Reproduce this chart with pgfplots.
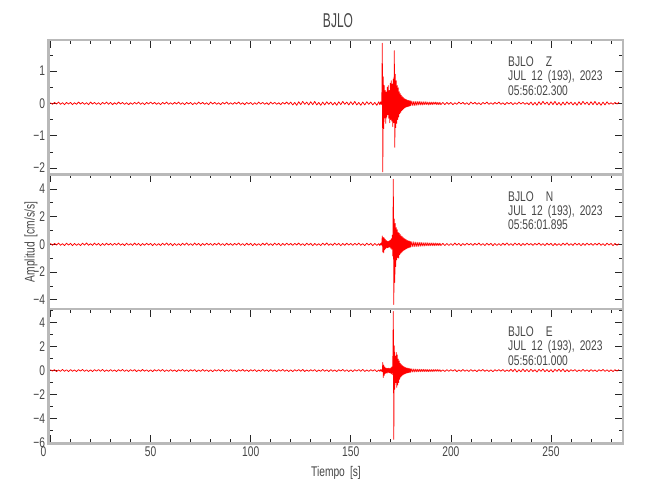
\documentclass[border=0pt]{standalone}
\usepackage{pgfplots}
\pgfplotsset{compat=1.18}
\usepackage{pgfplotstable}
\usepackage{fontspec}
\setmainfont{Liberation Sans}[FakeStretch=0.73,WordSpace=1.8]
\newfontfamily\titlefont{Liberation Sans}[FakeStretch=0.6]
\definecolor{txt}{RGB}{70,70,70}
\definecolor{framec}{RGB}{185,185,185}
\definecolor{sig}{RGB}{255,0,0}

\pgfplotstableread[row sep=\\]{
t z n e\\
0 0.02 0.06 0.07\\ 1 -0.03 -0.08 -0.05\\ 2 0.03 0.07 0.08\\ 3 -0.02 -0.05 -0.09\\ 4 0.04 0.09 0.05\\
5 -0.03 -0.07 -0.07\\ 6 0.02 0.05 0.09\\ 7 -0.04 -0.09 -0.06\\ 8 0.03 0.08 0.06\\ 9 -0.02 -0.06 -0.08\\
10 0.03 0.07 0.08\\ 11 -0.04 -0.1 -0.06\\ 12 0.02 0.06 0.05\\ 13 -0.03 -0.08 -0.09\\ 14 0.04 0.05 0.07\\
15 -0.02 -0.09 -0.05\\ 16 0.03 0.08 0.09\\ 17 -0.03 -0.06 -0.07\\ 18 0.02 0.1 0.06\\ 19 -0.04 -0.07 -0.08\\
20 0.04 0.05 0.06\\ 21 -0.02 -0.08 -0.09\\ 22 0.03 0.09 0.07\\ 23 -0.03 -0.06 -0.05\\ 24 0.02 0.07 0.08\\
25 -0.04 -0.1 -0.06\\ 26 0.03 0.06 0.09\\ 27 -0.02 -0.07 -0.08\\ 28 0.04 0.08 0.05\\ 29 -0.03 -0.05 -0.07\\
30 0.03 0.06 0.08\\ 31 -0.04 -0.08 -0.06\\ 32 0.02 0.07 0.05\\ 33 -0.03 -0.05 -0.09\\ 34 0.04 0.09 0.07\\
35 -0.02 -0.07 -0.05\\ 36 0.03 0.05 0.09\\ 37 -0.03 -0.09 -0.07\\ 38 0.02 0.08 0.06\\ 39 -0.04 -0.06 -0.08\\
40 0.02 0.05 0.07\\ 41 -0.03 -0.08 -0.05\\ 42 0.03 0.09 0.08\\ 43 -0.02 -0.06 -0.09\\ 44 0.04 0.07 0.05\\
45 -0.03 -0.1 -0.07\\ 46 0.02 0.06 0.09\\ 47 -0.04 -0.07 -0.06\\ 48 0.03 0.08 0.06\\ 49 -0.02 -0.05 -0.08\\
50 0.04 0.07 0.06\\ 51 -0.02 -0.1 -0.09\\ 52 0.03 0.06 0.07\\ 53 -0.03 -0.08 -0.05\\ 54 0.02 0.05 0.08\\
55 -0.04 -0.09 -0.06\\ 56 0.03 0.08 0.09\\ 57 -0.02 -0.06 -0.08\\ 58 0.04 0.1 0.05\\ 59 -0.03 -0.07 -0.07\\
60 0.02 0.07 0.08\\ 61 -0.03 -0.1 -0.06\\ 62 0.03 0.06 0.05\\ 63 -0.02 -0.08 -0.09\\ 64 0.04 0.05 0.07\\
65 -0.03 -0.09 -0.05\\ 66 0.02 0.08 0.09\\ 67 -0.04 -0.06 -0.07\\ 68 0.03 0.1 0.06\\ 69 -0.02 -0.07 -0.08\\
70 0.03 0.05 0.07\\ 71 -0.04 -0.08 -0.05\\ 72 0.02 0.09 0.08\\ 73 -0.03 -0.06 -0.09\\ 74 0.04 0.07 0.05\\
75 -0.02 -0.1 -0.07\\ 76 0.03 0.06 0.09\\ 77 -0.03 -0.07 -0.06\\ 78 0.02 0.08 0.06\\ 79 -0.04 -0.05 -0.08\\
80 0.04 0.06 0.06\\ 81 -0.02 -0.08 -0.09\\ 82 0.03 0.07 0.07\\ 83 -0.03 -0.05 -0.05\\ 84 0.02 0.09 0.08\\
85 -0.04 -0.07 -0.06\\ 86 0.03 0.05 0.09\\ 87 -0.02 -0.09 -0.08\\ 88 0.04 0.08 0.05\\ 89 -0.03 -0.06 -0.07\\
90 0.02 0.06 0.08\\ 91 -0.03 -0.08 -0.06\\ 92 0.03 0.07 0.05\\ 93 -0.02 -0.05 -0.09\\ 94 0.04 0.09 0.07\\
95 -0.03 -0.07 -0.05\\ 96 0.02 0.05 0.09\\ 97 -0.04 -0.09 -0.07\\ 98 0.03 0.08 0.06\\ 99 -0.02 -0.06 -0.08\\
100 0.03 0.07 0.07\\ 101 -0.04 -0.1 -0.05\\ 102 0.02 0.06 0.08\\ 103 -0.03 -0.08 -0.09\\ 104 0.04 0.05 0.05\\
105 -0.02 -0.09 -0.07\\ 106 0.03 0.08 0.09\\ 107 -0.03 -0.06 -0.06\\ 108 0.02 0.1 0.06\\ 109 -0.04 -0.07 -0.08\\
110 0.04 0.05 0.08\\ 111 -0.02 -0.08 -0.06\\ 112 0.03 0.09 0.05\\ 113 -0.03 -0.06 -0.09\\ 114 0.02 0.07 0.07\\
115 -0.04 -0.1 -0.05\\ 116 0.03 0.06 0.09\\ 117 -0.02 -0.07 -0.07\\ 118 0.04 0.08 0.06\\ 119 -0.03 -0.05 -0.08\\
120 0.04 0.06 0.06\\ 121 -0.05 -0.08 -0.09\\ 122 0.03 0.07 0.07\\ 123 -0.06 -0.05 -0.05\\ 124 0.05 0.09 0.08\\
125 -0.04 -0.07 -0.06\\ 126 0.06 0.05 0.09\\ 127 -0.03 -0.09 -0.08\\ 128 0.04 0.08 0.05\\ 129 -0.05 -0.06 -0.07\\
130 0.05 0.07 0.07\\ 131 -0.04 -0.1 -0.05\\ 132 0.06 0.06 0.08\\ 133 -0.05 -0.08 -0.09\\ 134 0.03 0.05 0.05\\
135 -0.06 -0.09 -0.07\\ 136 0.04 0.08 0.09\\ 137 -0.05 -0.06 -0.06\\ 138 0.05 0.1 0.06\\ 139 -0.03 -0.07 -0.08\\
140 0.04 0.05 0.08\\ 141 -0.05 -0.08 -0.06\\ 142 0.03 0.09 0.05\\ 143 -0.06 -0.06 -0.09\\ 144 0.05 0.07 0.07\\
145 -0.04 -0.1 -0.05\\ 146 0.06 0.06 0.09\\ 147 -0.03 -0.07 -0.07\\ 148 0.04 0.08 0.06\\ 149 -0.05 -0.05 -0.08\\
150 0.05 0.06 0.06\\ 151 -0.04 -0.08 -0.09\\ 152 0.06 0.07 0.07\\ 153 -0.05 -0.05 -0.05\\ 154 0.03 0.09 0.08\\
155 -0.06 -0.07 -0.06\\ 156 0.04 0.05 0.09\\ 157 -0.05 -0.09 -0.08\\ 158 0.05 0.08 0.05\\ 159 -0.03 -0.06 -0.07\\
160 0.04 0.07 0.07\\ 161 -0.05 -0.1 -0.05\\ 162 0.03 0.06 0.08\\ 163 -0.06 -0.08 -0.09\\ 164 0.05 0.05 0.05\\
164.5 -0.04 -0.09 -0.07\\ 165 0.05 0.08 0.08\\ 165.25 -0.04 -0.07 -0.06\\ 165.5 0.05 0.09 0.07\\
165.75 1.86 0.6 -0.08\\ 166 -2.12 -0.55 0.67\\ 166.25 0.82 0.5 -0.58\\ 166.5 -0.78 -0.62 0.45\\
166.75 0.55 0.45 -0.4\\ 167 -0.45 -0.38 0.3\\ 167.25 0.4 0.36 -0.25\\ 167.5 -0.62 -0.3 0.22\\
167.75 0.35 0.28 -0.2\\ 168 -0.42 -0.24 0.18\\ 168.25 0.5 0.22 -0.2\\ 168.5 -0.35 -0.25 0.17\\
168.75 0.55 0.2 -0.15\\ 169 -0.46 -0.22 0.2\\ 169.25 0.4 0.25 -0.18\\ 169.5 -0.6 -0.2 0.16\\
169.75 0.62 0.3 -0.2\\ 170 -0.5 -0.28 0.22\\ 170.25 0.7 0.4 -0.25\\ 170.5 -0.55 -0.36 0.3\\
170.75 0.6 0.65 -0.35\\ 171 -0.72 -0.85 0.6\\ 171.25 0.75 4.7 4.9\\ 171.5 -0.6 -4.35 -5.72\\
171.75 1.63 1.83 2.05\\ 172 -1.36 -2.75 -1.56\\ 172.25 0.9 1.5 1.2\\ 172.5 -0.75 -1.6 -1.0\\
172.75 0.7 1.2 1.5\\ 173 -0.62 -1.1 -1.4\\ 173.25 0.55 1.05 1.3\\ 173.5 -0.5 -0.95 -1.2\\
173.75 0.48 0.85 0.95\\ 174 -0.42 -1.0 -1.0\\ 174.25 0.36 0.8 0.8\\ 174.5 -0.32 -0.75 -0.7\\
174.75 0.3 0.7 0.6\\ 175 -0.28 -0.65 -0.55\\ 175.25 0.25 0.6 0.5\\ 175.5 -0.23 -0.58 -0.45\\
175.75 0.21 0.55 0.42\\ 176 -0.2 -0.5 -0.38\\ 176.25 0.18 0.48 0.35\\ 176.5 -0.17 -0.44 -0.32\\
176.75 0.15 0.42 0.3\\ 177 -0.14 -0.4 -0.28\\ 177.25 0.13 0.37 0.26\\ 177.5 -0.12 -0.35 -0.24\\
177.75 0.12 0.33 0.22\\ 178 -0.11 -0.3 -0.21\\ 178.25 0.1 0.28 0.2\\ 178.5 -0.1 -0.27 -0.19\\
178.75 0.09 0.25 0.18\\ 179 -0.09 -0.24 -0.17\\ 179.25 0.08 0.23 0.16\\ 179.5 -0.08 -0.22 -0.15\\
179.75 0.08 0.21 0.15\\ 180 -0.07 -0.2 -0.14\\ 180.5 0.07 0.19 0.14\\ 181 -0.07 -0.18 -0.13\\
181.5 0.06 0.18 0.13\\ 182 -0.07 -0.17 -0.12\\ 182.5 0.06 0.16 0.12\\ 183 -0.06 -0.16 -0.11\\
183.5 0.06 0.15 0.11\\ 184 -0.05 -0.15 -0.1\\ 184.5 0.06 0.14 0.11\\ 185 -0.05 -0.14 -0.1\\
185.5 0.05 0.13 0.1\\ 186 -0.05 -0.13 -0.09\\ 186.5 0.05 0.12 0.1\\ 187 -0.04 -0.12 -0.09\\
187.5 0.05 0.12 0.09\\ 188 -0.04 -0.11 -0.09\\ 188.5 0.04 0.11 0.08\\ 189 -0.05 -0.11 -0.09\\
189.5 0.04 0.1 0.08\\ 190 -0.04 -0.1 -0.08\\ 190.5 0.04 0.1 0.08\\ 191 -0.04 -0.1 -0.08\\
191.5 0.04 0.09 0.08\\ 192 -0.03 -0.1 -0.07\\ 192.5 0.04 0.09 0.08\\ 193 -0.04 -0.09 -0.07\\
193.5 0.03 0.08 0.08\\ 194 -0.04 -0.09 -0.07\\ 194.5 0.03 0.08 0.07\\ 195 -0.04 -0.09 -0.08\\
196 0.03 0.07 0.06\\ 197 -0.04 -0.09 -0.08\\ 198 0.03 0.06 0.07\\ 199 -0.03 -0.08 -0.06\\
200 0.03 0.05 0.07\\ 201 -0.04 -0.08 -0.05\\ 202 0.02 0.09 0.08\\ 203 -0.03 -0.06 -0.09\\ 204 0.04 0.07 0.05\\
205 -0.02 -0.1 -0.07\\ 206 0.03 0.06 0.09\\ 207 -0.03 -0.07 -0.06\\ 208 0.02 0.08 0.06\\ 209 -0.04 -0.05 -0.08\\
210 0.04 0.06 0.08\\ 211 -0.02 -0.08 -0.06\\ 212 0.03 0.07 0.05\\ 213 -0.03 -0.05 -0.09\\ 214 0.02 0.09 0.07\\
215 -0.04 -0.07 -0.05\\ 216 0.03 0.05 0.09\\ 217 -0.02 -0.09 -0.07\\ 218 0.04 0.08 0.06\\ 219 -0.03 -0.06 -0.08\\
220 0.02 0.07 0.06\\ 221 -0.03 -0.1 -0.09\\ 222 0.03 0.06 0.07\\ 223 -0.02 -0.08 -0.05\\ 224 0.04 0.05 0.08\\
225 -0.03 -0.09 -0.06\\ 226 0.02 0.08 0.09\\ 227 -0.04 -0.06 -0.08\\ 228 0.03 0.1 0.05\\ 229 -0.02 -0.07 -0.07\\
230 0.03 0.05 0.1\\ 231 -0.04 -0.08 -0.08\\ 232 0.02 0.09 0.12\\ 233 -0.03 -0.06 -0.13\\ 234 0.04 0.07 0.07\\
235 -0.02 -0.1 -0.1\\ 236 0.03 0.06 0.13\\ 237 -0.03 -0.07 -0.09\\ 238 0.02 0.08 0.09\\ 239 -0.04 -0.05 -0.11\\
240 0.04 0.06 0.11\\ 241 -0.05 -0.08 -0.08\\ 242 0.03 0.07 0.07\\ 243 -0.06 -0.05 -0.13\\ 244 0.05 0.09 0.1\\
245 -0.04 -0.07 -0.07\\ 246 0.06 0.05 0.13\\ 247 -0.03 -0.09 -0.1\\ 248 0.04 0.08 0.08\\ 249 -0.05 -0.06 -0.11\\
250 0.05 0.07 0.08\\ 251 -0.04 -0.1 -0.13\\ 252 0.06 0.06 0.1\\ 253 -0.05 -0.08 -0.07\\ 254 0.03 0.05 0.11\\
255 -0.06 -0.09 -0.08\\ 256 0.04 0.08 0.13\\ 257 -0.05 -0.06 -0.11\\ 258 0.05 0.1 0.07\\ 259 -0.03 -0.07 -0.1\\
260 0.04 0.05 0.07\\ 261 -0.05 -0.08 -0.05\\ 262 0.03 0.09 0.08\\ 263 -0.06 -0.06 -0.09\\ 264 0.05 0.07 0.05\\
265 -0.04 -0.1 -0.07\\ 266 0.06 0.06 0.09\\ 267 -0.03 -0.07 -0.06\\ 268 0.04 0.08 0.06\\ 269 -0.05 -0.05 -0.08\\
270 0.05 0.06 0.08\\ 271 -0.04 -0.08 -0.06\\ 272 0.06 0.07 0.05\\ 273 -0.05 -0.05 -0.09\\ 274 0.03 0.09 0.07\\
275 -0.06 -0.07 -0.05\\ 276 0.04 0.05 0.09\\ 277 -0.05 -0.09 -0.07\\ 278 0.05 0.08 0.06\\ 279 -0.03 -0.06 -0.08\\
280 0.02 0.07 0.06\\ 281 -0.03 -0.1 -0.09\\ 282 0.03 0.06 0.07\\ 283 -0.02 -0.08 -0.05\\ 284 0.04 0.05 0.08\\
}\seis

\pgfplotsset{
  seis/.style={
    scale only axis, width=574.5pt, height=134.5pt,
    xmin=-1, xmax=286,
    axis line style={draw=framec, line width=2.4pt},
    tick align=inside,
    major tick length=8pt, minor tick length=4pt,
    tick style={draw=black!85, line width=0.7pt},
    xtick={0,50,100,150,200,250},
    minor xtick={0,10,...,280},
    ytick pos=both, yticklabel pos=left,
    tick label style={font=\fontsize{14}{16}\selectfont, text=txt},
    clip=true,
  },
  trace/.style={color=sig, line width=0.75pt, line join=round, mark=none},
}

\begin{document}
\begin{tikzpicture}
% top: Z
\begin{axis}[seis, at={(48.5pt,325.5pt)}, anchor=south west,
  ymin=-2.2, ymax=1.96,
  ytick={-2,-1,0,1}, yticklabels={−2,−1,0,1},
  minor ytick={-2,-1.5,...,1.5},
  xtick pos=right, xticklabel=\mbox{}]
\addplot[trace] table[x=t,y=z]{\seis};
\end{axis}
% middle: N
\begin{axis}[seis, at={(48.5pt,191pt)}, anchor=south west,
  ymin=-4.67, ymax=5.04,
  ytick={-4,-2,0,2,4}, yticklabels={−4,−2,0,2,4},
  minor ytick={-4,-3,...,5},
  xtick pos=right, xticklabel=\mbox{}]
\addplot[trace] table[x=t,y=n]{\seis};
\end{axis}
% bottom: E
\begin{axis}[seis, at={(48.5pt,56.5pt)}, anchor=south west,
  ymin=-6.06, ymax=5.11,
  ytick={-6,-4,-2,0,2,4}, yticklabels={−6,−4,−2,0,2,4},
  minor ytick={-6,-5,...,5},
  xtick pos=both, xticklabels={\hspace*{-14pt}0,50,100,150,200,250}]
\addplot[trace] table[x=t,y=e]{\seis};
\end{axis}

\node[font=\titlefont\fontsize{20}{22}\selectfont, text=txt] at (338pt,479pt) {BJLO};
\node[font=\fontsize{14}{16}\selectfont, text=txt] at (336pt,27pt) {Tiempo [s]};
\node[rotate=90, font=\fontsize{14}{16}\selectfont, text=txt] at (31pt,258pt) {Amplitud [cm/s/s]};

\begin{scope}[every node/.style={anchor=base west, inner sep=0pt, font=\fontsize{14}{16}\selectfont, text=txt}]
\node at (508pt,433pt) {BJLO\hspace{12pt}Z};
\node at (508pt,419pt) {JUL 12 (193), 2023};
\node at (508pt,404.7pt) {05:56:02.300};
\node at (508pt,298.5pt) {BJLO\hspace{12pt}N};
\node at (508pt,284.5pt) {JUL 12 (193), 2023};
\node at (508pt,270.2pt) {05:56:01.895};
\node at (508pt,163pt) {BJLO\hspace{12pt}E};
\node at (508pt,149pt) {JUL 12 (193), 2023};
\node at (508pt,134.7pt) {05:56:01.000};
\end{scope}

\pgfresetboundingbox
\path[use as bounding box] (0pt,0pt) rectangle (650pt,500pt);
\end{tikzpicture}
\end{document}
